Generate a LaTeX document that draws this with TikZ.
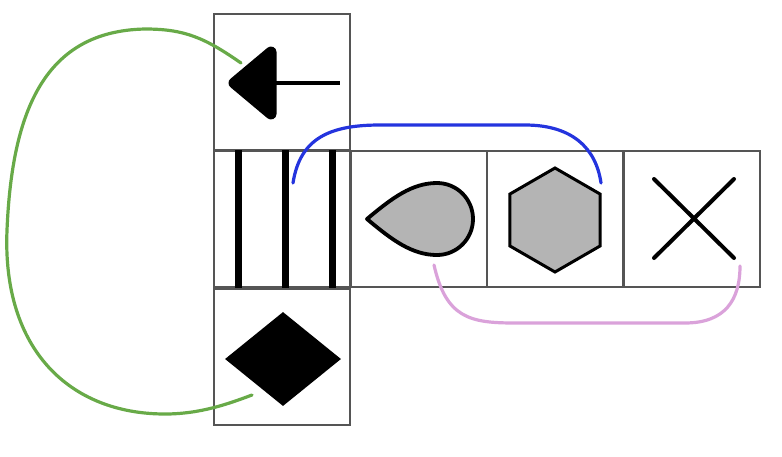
\documentclass[tikz,border=0pt]{standalone}
\usepackage{xcolor}
\usetikzlibrary{shapes.geometric}
\definecolor{linkgreen}{RGB}{104,170,72}
\definecolor{linkblue}{RGB}{36,52,222}
\definecolor{linkpink}{RGB}{218,162,218}
\definecolor{cellgray}{RGB}{85,85,85}
\definecolor{shapegray}{RGB}{180,180,180}
\begin{document}
\begin{tikzpicture}[x=1pt,y=-1pt]
        \tikzset{cell/.style = {shape=rectangle,draw=cellgray,line width=2.4pt,minimum size=136.5pt,inner sep=0pt}}
        \tikzset{link/.style = {line width=3.2pt,line cap=round}}
        \useasboundingbox (0,0) rectangle (782,456);
        % cells
        \node[cell] (up)    at (282,82)  {};
        \node[cell] (bars)  at (282,219) {};
        \node[cell] (down)  at (282,357) {};
        \node[cell] (drop)  at (419,219) {};
        \node[cell] (hexc)  at (555,219) {};
        \node[cell] (cross) at (692,219) {};
        % shapes
        \filldraw[line width=11pt,line join=round] (234,83) -- (271,52) -- (271,114) -- cycle;
        \draw[line width=3.5pt] (271,83) -- (340,83);
        \foreach \x in {238,285,332}
          \draw[line width=7pt] (\x,150) -- (\x,288);
        \filldraw[fill=shapegray,line width=3.8pt,line join=round] (367,219)
          .. controls (392,198) and (412,183) .. (437,183) arc (-90:90:36)
          .. controls (412,255) and (392,240) .. (367,219) -- cycle;
        \node[regular polygon,regular polygon sides=6,shape border rotate=30,draw,fill=shapegray,
              line width=3pt,minimum size=104pt,inner sep=0pt] (hex) at (555,220) {};
        \draw[line width=4pt,line cap=round] (654,179) -- (734,258) (654,258) -- (734,179);
        \node[diamond,fill,minimum width=116pt,minimum height=94pt,inner sep=0pt] (dia) at (283,359) {};
        % link ends
        \coordinate (gs) at (241,63);
        \coordinate (ge) at (252,395);
        \coordinate (bs) at (293,183);
        \coordinate (be) at (601,183);
        \coordinate (ps) at (434,265);
        \coordinate (pe) at (740,266);
        % links
        \draw[link,linkgreen] (gs) .. controls (205,38) and (185,29) .. (145,29)
          .. controls (45,31) and (12,110) .. (7,230)
          .. controls (2,350) and (70,414) .. (165,414)
          .. controls (200,414) and (228,404) .. (ge);
        \draw[link,linkblue] (bs) .. controls (300,138) and (330,125) .. (380,125)
          -- (525,125) .. controls (572,125) and (596,148) .. (be);
        \draw[link,linkpink] (ps) .. controls (446,318) and (470,323) .. (515,323)
          -- (685,323) .. controls (725,323) and (740,300) .. (pe);
\end{tikzpicture}
\end{document}
